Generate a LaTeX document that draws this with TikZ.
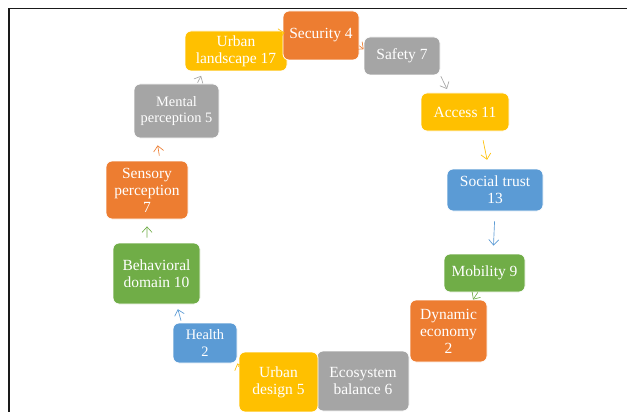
\documentclass[tikz,border=0pt]{standalone}
\usepackage{fontspec}
\setmainfont{Liberation Serif}
\usetikzlibrary{arrows.meta}
\definecolor{cora}{HTML}{ED7D31}
\definecolor{cgray}{HTML}{A5A5A5}
\definecolor{cyel}{HTML}{FFC000}
\definecolor{cblue}{HTML}{5B9BD5}
\definecolor{cgreen}{HTML}{70AD47}
\definecolor{frame}{HTML}{1A1A1A}
\begin{document}
\begin{tikzpicture}[x=1pt,y=-1pt,
  box/.style={rounded corners=6pt, draw=white, line width=0.8pt, text=white,
    align=center, inner sep=0pt, font=\fontsize{15.5}{17}\selectfont},
  smallfont/.style={font=\fontsize{14.4}{16.5}\selectfont},
  arr/.style={line width=0.65pt, -{Straight Barb[length=5.5pt,width=10pt]}}]
\useasboundingbox (0,0) rectangle (627,412);
\fill[white] (0,0) rectangle (627,412);
\draw[line width=1.6pt, frame] (627,8.5) -- (9,8.5) -- (9,412);

\node[box, fill=cyel, minimum width=102pt, minimum height=40pt] (land) at (236,51) {Urban\\landscape 17};
\node[box, fill=cora, minimum width=76pt, minimum height=49pt] (sec) at (321,35.5) {Security 4};
\node[box, fill=cgray, minimum width=76pt, minimum height=38pt] (saf) at (402,56) {Safety 7};
\node[box, fill=cyel, minimum width=88pt, minimum height=38pt] (acc) at (465,112) {Access 11};
\node[box, fill=cblue, minimum width=96pt, minimum height=42pt] (soc) at (495,190) {Social trust\\13};
\node[box, fill=cgreen, minimum width=81pt, minimum height=38pt] (mob) at (484.5,273) {Mobility 9};
\node[box, fill=cora, minimum width=77pt, minimum height=62pt] (dyn) at (448.5,331) {Dynamic\\economy\\2};
\node[box, fill=cgray, minimum width=92pt, minimum height=60pt] (eco) at (363,381) {Ecosystem\\balance 6};
\node[box, fill=cyel, minimum width=79pt, minimum height=60pt] (ud) at (278.5,382) {Urban\\design 5};
\node[box, smallfont, fill=cblue, minimum width=64pt, minimum height=40pt] (hea) at (205,343) {Health\\2};
\node[box, fill=cgreen, minimum width=87pt, minimum height=61pt] (beh) at (156.5,273.5) {Behavioral\\domain 10};
\node[box, fill=cora, minimum width=82pt, minimum height=58pt] (sen) at (147,190) {Sensory\\perception\\7};
\node[box, smallfont, fill=cgray, minimum width=85pt, minimum height=54pt] (men) at (176.5,111) {Mental\\perception 5};

\draw[arr, cyel] ([xshift=-6pt]land.19) -- ([xshift=2pt]sec.176);
\draw[arr, cora] (sec.-15) -- (saf.170);
\draw[arr, cgray, shorten <=1pt, shorten >=4pt] (saf.south east) -- (acc.130);
\draw[arr, cyel, shorten <=9pt, shorten >=9pt] (acc.-50) -- (soc.106);
\draw[arr, cblue, shorten <=10pt, shorten >=8pt] (soc.south) -- (mob.66);
\draw[arr, cgreen] (mob.-109) -- (dyn.52);
\draw[arr, cyel] (ud.159) -- (hea.south east);
\draw[arr, cblue, shorten <=2pt, shorten >=5pt] (hea.139) -- (beh.-57);
\draw[arr, cgreen, shorten <=5pt, shorten >=7pt] (beh.107) -- (sen.south);
\draw[arr, cora, shorten <=5pt, shorten >=7pt] (sen.66) -- (men.-126);
\draw[arr, cgray, shorten <=1pt, shorten >=5pt] (men.53) -- (land.-148);
\end{tikzpicture}
\end{document}
